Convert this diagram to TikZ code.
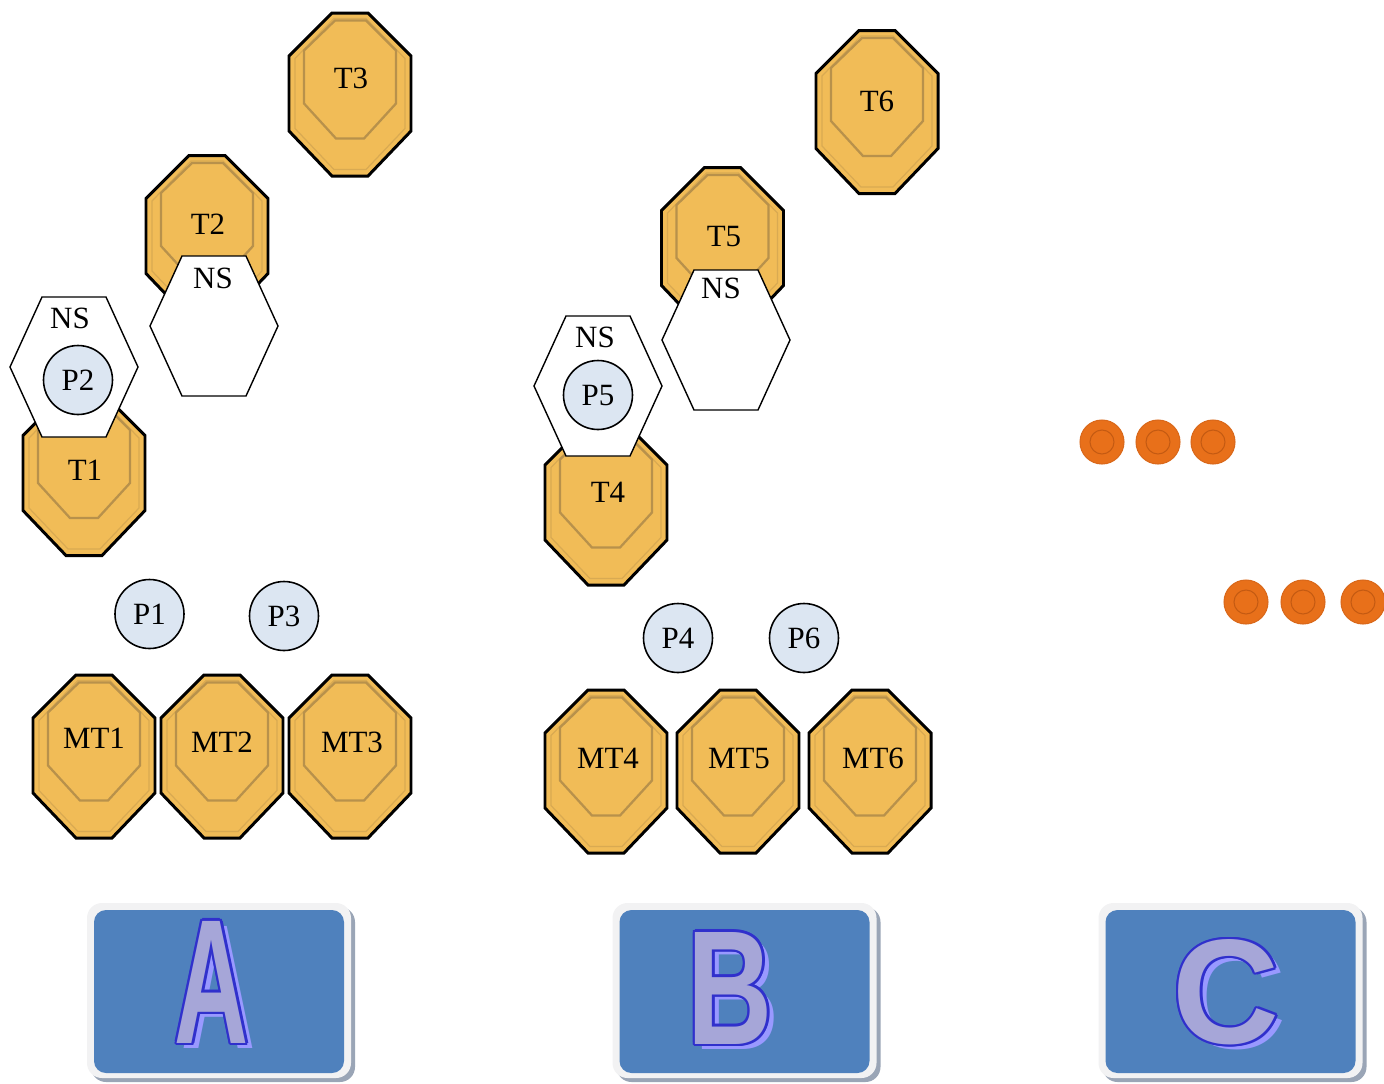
\documentclass[tikz,border=0pt]{standalone}
\usepackage{fontspec}
\setmainfont{Liberation Serif}
\setsansfont{Liberation Sans}
\usepackage{graphicx}

\definecolor{tilefill}{HTML}{F1BC57}
\definecolor{tileline}{HTML}{B8914B}
\definecolor{tilehi}{HTML}{D9AA52}
\definecolor{procblue}{HTML}{DCE6F2}
\definecolor{badgeblue}{HTML}{4F81BD}
\definecolor{badgewhite}{HTML}{F2F2F3}
\definecolor{badgeshade}{HTML}{9AA5B6}
\definecolor{letterfill}{HTML}{A6A6D8}
\definecolor{letterline}{HTML}{3030CC}
\definecolor{lettershade}{HTML}{9999FF}
\definecolor{dotorange}{HTML}{E8701A}
\definecolor{dotrim}{HTML}{D9681A}
\definecolor{dotring}{HTML}{C45A12}

\newlength\pxu
\setlength\pxu{0.02cm}

\begin{document}
\begin{tikzpicture}[x=0.02cm, y=-0.02cm,
   every node/.style={font=\fontsize{17.6}{20}\selectfont},
   tag/.style={inner sep=0pt, text height=11.6pt, text depth=0pt},
   proc/.style={circle, draw, line width=0.9pt, fill=procblue, minimum size=69\pxu,
                inner sep=0pt, text height=11.6pt, text depth=0pt},
   disc/.style={circle, fill=dotorange, draw=dotrim, line width=0.6pt, minimum size=44\pxu,
                inner sep=0pt,
                path picture={\draw[dotring, line width=0.6pt]
                   (path picture bounding box.center) circle (12);}},
   glyph/.style={inner sep=0pt, font=\sffamily\bfseries},
   tile/.pic={
      \draw[line width=1.7pt, fill=tilefill] (-18,-81.5) -- (18,-81.5) -- (61,-38.5) -- (61,36.5)
         -- (18,81.5) -- (-18,81.5) -- (-61,36.5) -- (-61,-38.5) -- cycle;
      \draw[tilehi, line width=0.7pt] (-16,-76) -- (16,-76) -- (55,-36) -- (55,34)
         -- (16,75) -- (-16,75) -- (-55,34) -- (-55,-36) -- cycle;
      \draw[tileline, line width=1.3pt] (-15,-74) -- (16,-74) -- (46,-44) -- (46,9)
         -- (14,44) -- (-14,44) -- (-46,9) -- (-46,-44) -- cycle;
   },
   nsbox/.pic={
      \draw[fill=white, line width=0.8pt] (-32,-70) -- (32,-70) -- (64,0) -- (32,70)
         -- (-32,70) -- (-64,0) -- cycle;
   },
   badge/.pic={
      \fill[badgeshade, rounded corners=0.3cm] (-128,-83.5) rectangle (136,91.5);
      \fill[badgewhite, rounded corners=0.3cm] (-132,-87.5) rectangle (132,87.5);
      \fill[badgeblue, rounded corners=0.24cm] (-125,-80.5) rectangle (125,82.5);
   }]

\useasboundingbox (0,0) rectangle (1384,1083);

% group A
\pic at (350,94.5) {tile};
\node[tag] (T3) at (351,78) {T3};
\pic at (207,237) {tile};
\node[tag] (T2) at (208,224) {T2};
\pic at (84,474) {tile};
\node[tag] (T1) at (85,470) {T1};

\pic at (74,367) {nsbox};
\node[tag] (nsA1) at (70,318) {NS};
\pic at (214,326) {nsbox};
\node[tag] (nsA2) at (213,278) {NS};

\node[proc] (P2) at (78,380) {P2};
\node[proc] (P1) at (149.5,614) {P1};
\node[proc] (P3) at (284,616) {P3};

\foreach \name/\x/\tx/\ty in {MT1/94/94/738, MT2/222/222/742, MT3/350/352/742}{
   \pic at (\x,756.5) {tile};
   \node[tag] (\name) at (\tx,\ty) {\name};
}

% group B
\pic at (877,112) {tile};
\node[tag] (T6) at (877,101) {T6};
\pic at (722.5,249) {tile};
\node[tag] (T5) at (724,236.5) {T5};
\pic at (606,503.5) {tile};
\node[tag] (T4) at (608,492.5) {T4};

\pic at (598,386) {nsbox};
\node[tag] (nsB1) at (595,337) {NS};
\pic at (726,340) {nsbox};
\node[tag] (nsB2) at (721,288) {NS};

\node[proc] (P5) at (598,395) {P5};
\node[proc] (P4) at (678,638) {P4};
\node[proc] (P6) at (804,638) {P6};

\foreach \name/\x/\tx in {MT4/606/608, MT5/738/739, MT6/870/873}{
   \pic at (\x,771.5) {tile};
   \node[tag] (\name) at (\tx,758) {\name};
}

% group C
\foreach \i/\x/\y in {1/1102/442, 2/1158/442, 3/1213/442, 4/1246/602, 5/1303/602, 6/1363/602}
   \node[disc] (dot\i) at (\x,\y) {};

% badges
\foreach \name/\cx/\lx/\ly/\lw/\lh in {A/219/212/982/74/122, B/744.5/730.5/988/85/112, C/1230.5/1226.5/992/107/104}{
   \pic at (\cx,990.5) {badge};
   \node[glyph, text=lettershade] (\name-shade) at (\lx+7,\ly+5)
      {\resizebox{\lw\pxu}{\lh\pxu}{\name}};
   \foreach \a in {0,30,...,330}
      \node[glyph, text=letterline, shift={(\a:2.3)}] (\name-edge-\a) at (\lx,\ly)
         {\resizebox{\lw\pxu}{\lh\pxu}{\name}};
   \node[glyph, text=letterfill] (\name) at (\lx,\ly)
      {\resizebox{\lw\pxu}{\lh\pxu}{\name}};
}

\end{tikzpicture}
\end{document}
